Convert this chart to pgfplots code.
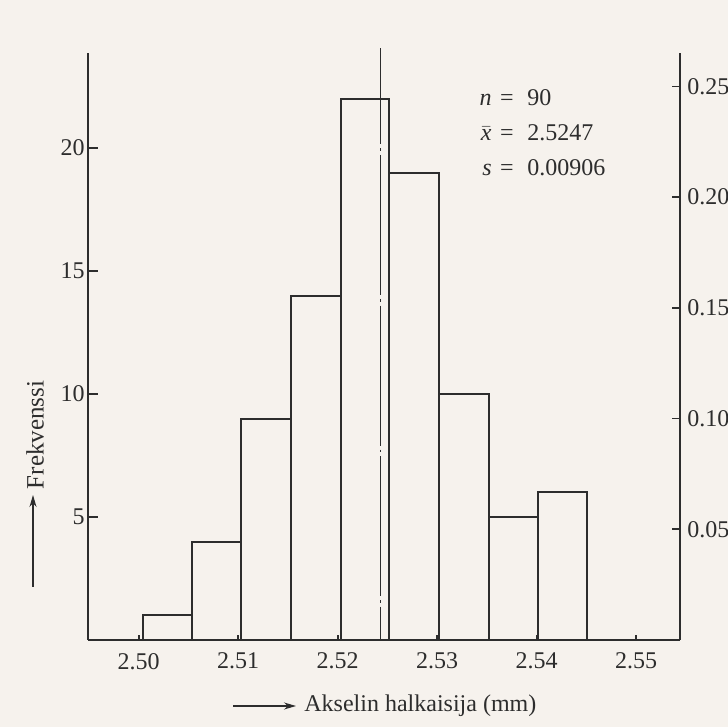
\documentclass[border=0pt]{standalone}
\usepackage{fontspec}
\setmainfont{Liberation Serif}
\usepackage{pgfplots}
\pgfplotsset{compat=1.18}
\usetikzlibrary{arrows.meta}
\definecolor{paper}{RGB}{246,242,237}
\definecolor{ink}{RGB}{45,45,45}
\begin{document}
\begin{tikzpicture}
\useasboundingbox (-44pt,-43.5pt) rectangle (320pt,320pt);
\fill[paper] (-44pt,-43.5pt) rectangle (320pt,320pt);
\pgfplotsset{base/.style={width=296pt,height=293.5pt,scale only axis,at={(0pt,0pt)},anchor=south west,
  xmin=2.4949,xmax=2.5544,ymin=0,ymax=23.86,tick align=inside,
  axis line style={-, ink, line width=0.8pt}, tick style={ink, line width=0.8pt},
  ticklabel style={font=\fontsize{12}{14}\selectfont, text=ink},
  /pgf/number format/assume math mode=true}}
% main axis: bars, x axis
\begin{axis}[base, axis x line*=bottom, axis y line=none, clip=false,
  xtick={2.50,2.51,2.52,2.53,2.54,2.55},
  xticklabel style={/pgf/number format/fixed,/pgf/number format/fixed zerofill,/pgf/number format/precision=2, yshift=-3pt},
  major tick length=2.5pt]
\addplot[ybar interval, draw=ink, line width=1pt, fill=none] coordinates
  {(2.5004,1)(2.5054,4)(2.5103,9)(2.5153,14)(2.5203,22)(2.5252,19)(2.5302,10)(2.5352,5)(2.5401,6)(2.5451,6)};
\addplot[ink, line width=0.6pt, dash pattern=on 70pt off 2pt on 1.3pt off 2pt, dash phase=22pt]
  coordinates {(2.5243,24.05)(2.5243,0)};
\end{axis}
% left y axis
\begin{axis}[base, axis x line=none, axis y line*=left,
  ytick={5,10,15,20}, major tick length=5pt,
  yticklabel style={inner sep=0pt, xshift=-1.5pt}]
\end{axis}
% right y axis (relative frequency)
\begin{axis}[base, ymax=0.265111, axis x line=none, axis y line*=right,
  ytick={0.05,0.10,0.15,0.20,0.25}, major tick length=4pt,
  yticklabel style={/pgf/number format/fixed,/pgf/number format/fixed zerofill,/pgf/number format/precision=2, inner sep=0pt, xshift=3.5pt}]
\end{axis}
% axis labels
\draw[ink, line width=0.6pt, -{Stealth[length=6pt,width=3.5pt]}] (-27.5pt,26.5pt) -- (-27.5pt,72.5pt);
\node[rotate=90, text=ink, font=\fontsize{12.5}{14}\selectfont] at (-26.5pt,102.5pt) {Frekvenssi};
\draw[ink, line width=0.6pt, -{Stealth[length=6pt,width=3.5pt]}] (72.5pt,-33pt) -- (104pt,-33pt);
\node[anchor=west, text=ink, font=\fontsize{12}{14}\selectfont, inner sep=0pt] at (108pt,-33pt) {Akselin halkaisija (mm)};
% statistics
\begin{scope}[every node/.style={text=ink, font=\fontsize{12}{14}\selectfont, inner sep=0pt}]
\node[anchor=base east] at (202pt,267pt) {\textit{n}};
\node[anchor=base] at (209.5pt,267pt) {=};
\node[anchor=base west] at (219.5pt,267pt) {90};
\node[anchor=base east] at (202pt,249.5pt) {$\bar{\textit{x}}$};
\node[anchor=base] at (209.5pt,249.5pt) {=};
\node[anchor=base west] at (219.5pt,249.5pt) {2.5247};
\node[anchor=base east] at (202pt,232pt) {\textit{s}};
\node[anchor=base] at (209.5pt,232pt) {=};
\node[anchor=base west] at (219.5pt,232pt) {0.00906};
\end{scope}
\end{tikzpicture}
\end{document}
